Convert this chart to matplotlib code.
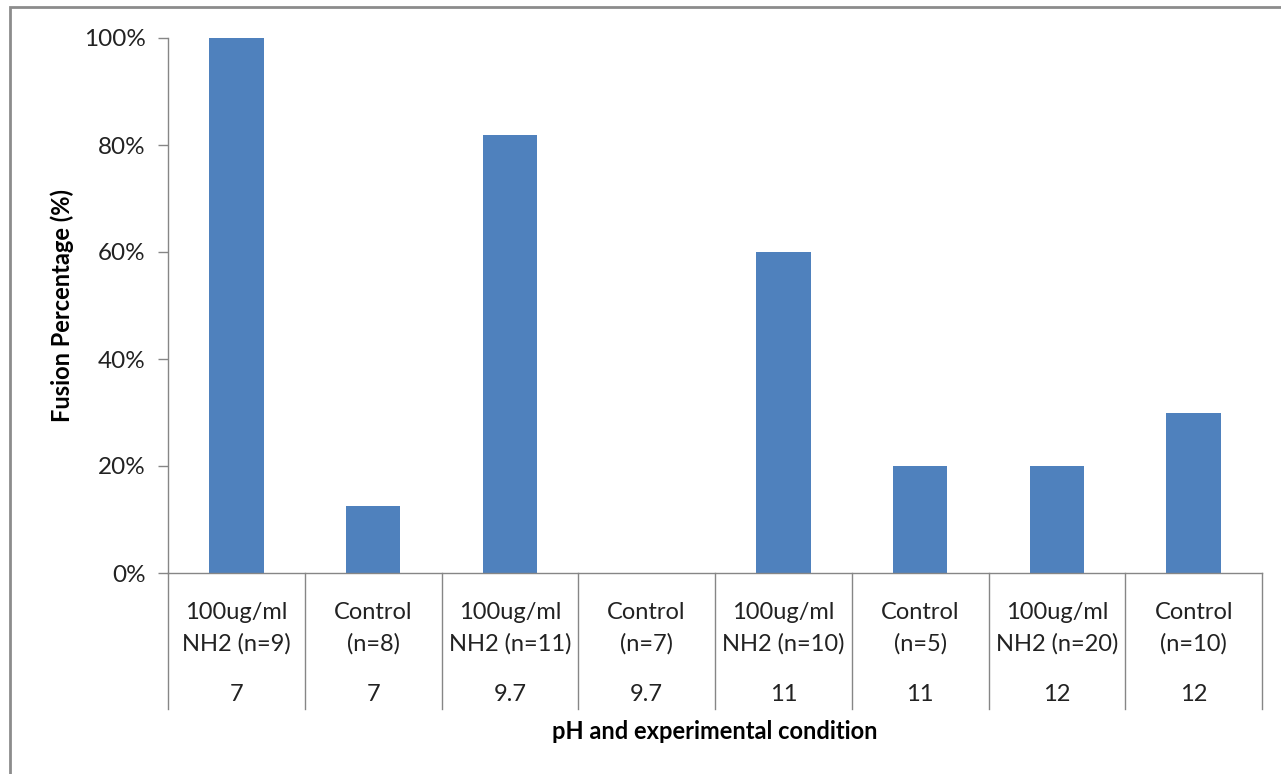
import matplotlib.pyplot as plt
from matplotlib.patches import Rectangle
from matplotlib.ticker import PercentFormatter

# data
conditions = ['100ug/ml\nNH2 (n=9)', 'Control\n(n=8)', '100ug/ml\nNH2 (n=11)', 'Control\n(n=7)',
              '100ug/ml\nNH2 (n=10)', 'Control\n(n=5)', '100ug/ml\nNH2 (n=20)', 'Control\n(n=10)']
ph_values = ['7', '7', '9.7', '9.7', '11', '11', '12', '12']
fusion_pct = [100, 12.5, 81.8, 0, 60, 20, 20, 30]

plt.rcParams['font.family'] = ['Lato', 'DejaVu Sans']

fig = plt.figure(figsize=(12.81, 7.74), dpi=100)
ax = fig.add_axes([168 / 1281, 1 - 573 / 774, 1094 / 1281, 535 / 774])

# outer chart border (runs off the right/bottom of the picture)
fig.patches.append(Rectangle((10 / 1281, -0.1), 1.2, 1 - 7 / 774 + 0.1,
                             transform=fig.transFigure, fill=False,
                             edgecolor='#8c8c8c', linewidth=2))

x = list(range(len(fusion_pct)))
ax.bar(x, fusion_pct, width=0.40, color='#4f81bd')

ax.set_xlim(-0.5, len(x) - 0.5)
ax.set_ylim(0, 100)
ax.set_yticks([0, 20, 40, 60, 80, 100])
ax.yaxis.set_major_formatter(PercentFormatter(decimals=0))
ax.tick_params(axis='y', length=7, width=1, color='#868686', labelsize=17.5, pad=9, labelcolor='#222222')
ax.set_xticks([])

for side in ['top', 'right']:
    ax.spines[side].set_visible(False)
for side in ['left', 'bottom']:
    ax.spines[side].set_color('#868686')
    ax.spines[side].set_linewidth(1)

# two-level category axis
trans = ax.get_xaxis_transform()
for i in range(len(x) + 1):
    ax.plot([i - 0.5, i - 0.5], [0, -0.254], transform=trans, color='#868686',
            linewidth=1, clip_on=False)
for i, (cond, ph) in enumerate(zip(conditions, ph_values)):
    ax.text(i, -0.103, cond, transform=trans, ha='center', va='center',
            fontsize=17, linespacing=1.6, color='#222222')
    ax.text(i, -0.227, ph, transform=trans, ha='center', va='center',
            fontsize=17, color='#222222')

ax.text(0.5, -0.297, 'pH and experimental condition', transform=ax.transAxes,
        ha='center', va='center', fontsize=17, fontweight='bold')
ax.text(-0.097, 0.5, 'Fusion Percentage (%)', transform=ax.transAxes, rotation=90,
        ha='center', va='center', fontsize=17, fontweight='bold')

fig.savefig('out.png', dpi=100)
